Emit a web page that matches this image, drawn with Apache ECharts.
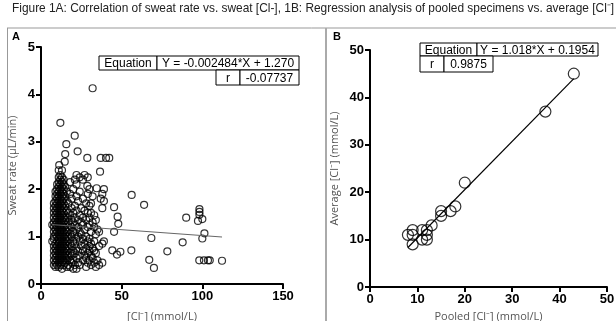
<!DOCTYPE html>
<html>
<head>
<meta charset="utf-8">
<script src="https://cdn.jsdelivr.net/npm/echarts@6/dist/echarts.min.js"></script>
<style>
  html, body { margin: 0; padding: 0; background: #fff; }
  #chart { width: 616px; height: 321px; }
</style>
</head>
<body>
<div id="chart"></div>
<script>
// Panel A: sweat [Cl-] (mmol/L) vs sweat rate (uL/min)
const sweatPoints = [
  [13, 0.32], [20, 0.32], [22, 0.32],
  [9, 0.36], [11, 0.36], [16, 0.36], [18, 0.36], [28, 0.36], [34, 0.36],
  [8, 0.4], [10, 0.4], [12, 0.4], [14, 0.4], [17, 0.4], [21, 0.4], [24, 0.4], [31, 0.4], [36, 0.4],
  [9, 0.45], [11, 0.45], [13, 0.45], [15, 0.45], [19, 0.45], [23, 0.45], [29, 0.45], [33, 0.45], [38, 0.45],
  [8, 0.5], [10, 0.5], [12, 0.5], [14, 0.5], [16, 0.5], [18, 0.5], [20, 0.5], [26, 0.5], [30, 0.5], [35, 0.5],
  [9, 0.55], [11, 0.55], [13, 0.55], [15, 0.55], [17, 0.55], [22, 0.55], [28, 0.55], [32, 0.55],
  [8, 0.6], [10, 0.6], [12, 0.6], [14, 0.6], [16, 0.6], [19, 0.6], [24, 0.6], [27, 0.6], [31, 0.6],
  [9, 0.65], [11, 0.65], [13, 0.65], [15, 0.65], [18, 0.65], [21, 0.65], [29, 0.65], [34, 0.65],
  [8, 0.7], [10, 0.7], [12, 0.7], [14, 0.7], [16, 0.7], [20, 0.7], [23, 0.7], [26, 0.7], [30, 0.7], [33, 0.7],
  [9, 0.75], [11, 0.75], [13, 0.75], [15, 0.75], [17, 0.75], [22, 0.75], [28, 0.75], [32, 0.75],
  [8, 0.8], [10, 0.8], [12, 0.8], [14, 0.8], [16, 0.8], [19, 0.8], [25, 0.8], [30, 0.8], [36, 0.8],
  [9, 0.85], [11, 0.85], [13, 0.85], [15, 0.85], [18, 0.85], [21, 0.85], [27, 0.85], [31, 0.85], [38, 0.85],
  [7, 0.9], [10, 0.9], [12, 0.9], [14, 0.9], [16, 0.9], [20, 0.9], [24, 0.9], [29, 0.9], [33, 0.9], [39, 0.9],
  [8, 0.95], [11, 0.95], [13, 0.95], [15, 0.95], [17, 0.95], [22, 0.95], [26, 0.95], [30, 0.95],
  [8, 1.0], [10, 1.0], [12, 1.0], [14, 1.0], [16, 1.0], [19, 1.0], [23, 1.0], [28, 1.0],
  [9, 1.05], [11, 1.05], [13, 1.05], [15, 1.05], [18, 1.05], [21, 1.05], [25, 1.05], [34, 1.05],
  [8, 1.1], [10, 1.1], [12, 1.1], [14, 1.1], [16, 1.1], [20, 1.1], [24, 1.1], [31, 1.1], [36, 1.1],
  [9, 1.15], [11, 1.15], [13, 1.15], [15, 1.15], [17, 1.15], [22, 1.15], [27, 1.15], [35, 1.15],
  [8, 1.2], [10, 1.2], [12, 1.2], [14, 1.2], [16, 1.2], [19, 1.2], [23, 1.2], [29, 1.2], [33, 1.2],
  [7, 1.25], [9, 1.25], [11, 1.25], [13, 1.25], [15, 1.25], [18, 1.25], [21, 1.25], [26, 1.25], [30, 1.25],
  [8, 1.3], [10, 1.3], [12, 1.3], [14, 1.3], [17, 1.3], [20, 1.3], [25, 1.3], [32, 1.3],
  [9, 1.35], [11, 1.35], [13, 1.35], [15, 1.35], [19, 1.35], [23, 1.35], [28, 1.35], [34, 1.35],
  [8, 1.4], [10, 1.4], [12, 1.4], [14, 1.4], [16, 1.4], [21, 1.4], [26, 1.4], [30, 1.4],
  [9, 1.45], [11, 1.45], [13, 1.45], [15, 1.45], [18, 1.45], [24, 1.45], [33, 1.45],
  [8, 1.5], [10, 1.5], [12, 1.5], [14, 1.5], [17, 1.5], [20, 1.5], [29, 1.5], [31, 1.5],
  [9, 1.55], [11, 1.55], [13, 1.55], [16, 1.55], [22, 1.55], [27, 1.55],
  [8, 1.6], [10, 1.6], [12, 1.6], [14, 1.6], [19, 1.6], [25, 1.6], [38, 1.6],
  [9, 1.65], [11, 1.65], [13, 1.65], [15, 1.65], [21, 1.65], [30, 1.65],
  [8, 1.7], [10, 1.7], [12, 1.7], [14, 1.7], [17, 1.7], [28, 1.7], [31, 1.7],
  [9, 1.75], [11, 1.75], [13, 1.75], [16, 1.75], [23, 1.75], [39, 1.75],
  [10, 1.8], [12, 1.8], [14, 1.8], [19, 1.8], [26, 1.8], [37, 1.8],
  [9, 1.85], [11, 1.85], [13, 1.85], [15, 1.85], [22, 1.85], [32, 1.85],
  [10, 1.9], [12, 1.9], [14, 1.9], [18, 1.9], [29, 1.9], [38, 1.9],
  [9, 1.95], [11, 1.95], [13, 1.95], [16, 1.95], [24, 1.95],
  [10, 2.0], [12, 2.0], [14, 2.0], [20, 2.0], [30, 2.0], [39, 2.0],
  [11, 2.05], [13, 2.05], [15, 2.05], [28.7, 2.07], [34.5, 2.02],
  [10, 2.1], [12, 2.1], [14, 2.1], [22, 2.1],
  [11, 2.15], [13, 2.15], [18, 2.15],
  [12, 2.2], [14, 2.2], [21, 2.2], [26, 2.2],
  [11, 2.25], [13, 2.25], [24, 2.25], [29, 2.25],
  [12, 2.3], [22, 2.3], [27, 2.3],
  [11, 2.4], [13, 2.4], [11.3, 2.51], [14.7, 2.58], [15, 2.74], [15.7, 2.95],
  [36.6, 2.37], [28.7, 2.66], [37, 2.66], [40.3, 2.66], [42.3, 2.66],
  [22.7, 2.8], [20.9, 3.13], [12, 3.4], [32, 4.13],
  [56.2, 1.88], [63.9, 1.67], [45.3, 1.62], [47.5, 1.42], [47.9, 1.27], [45.3, 1.1],
  [98.2, 1.58], [98.2, 1.52], [98.2, 1.46], [90, 1.4], [97.3, 1.33], [100, 1.37],
  [101.3, 1.07], [100, 0.96], [68.4, 0.97], [87.8, 0.88],
  [56, 0.71], [78.3, 0.69], [44.2, 0.71], [47.1, 0.62], [49.2, 0.68],
  [67.1, 0.51], [70, 0.34], [98.1, 0.5], [101, 0.5], [103.5, 0.5], [104.6, 0.5], [112.2, 0.49]
];
const fitA = [[7, 1.2526], [112.2, 0.9913]];

// Panel B: pooled [Cl-] vs average [Cl-] (mmol/L)
const pooledPoints = [
  [8, 11], [9, 11], [9, 12], [9, 9], [11, 12], [11, 10], [12, 12], [12, 10], [12, 11],
  [13, 13], [15, 15], [15, 16], [17, 16], [18, 17], [20, 22], [37, 37], [43, 45]
];
const fitB = [[8, 8.34], [43, 43.97]];

const ticksA = { xMax: 150, xStep: 50, yMax: 5, yStep: 1 };
const ticksB = { xMax: 50, xStep: 10, yMax: 50, yStep: 10 };

const chart = echarts.init(document.getElementById("chart"));

const axisStyle = (max, step) => ({
  type: "value",
  min: 0,
  max: max,
  interval: step,
  splitLine: { show: false },
  axisLine: { show: true, onZero: false, lineStyle: { color: "#000", width: 2 } },
  axisTick: { show: true, length: 5, lineStyle: { color: "#000", width: 2 } },
  axisLabel: { color: "#000", fontWeight: "bold", fontSize: 13, fontFamily: "Liberation Sans", margin: 6 },
  nameLocation: "middle",
  nameTextStyle: { color: "#555", fontSize: 11, fontFamily: "Open Sans" }
});

// little two-row tables with the fit results
const cell = (x, y, w, h, text) => ({
  type: "group",
  children: [
    { type: "rect", shape: { x: x, y: y, width: w, height: h }, style: { fill: "#fff", stroke: "#000", lineWidth: 1 } },
    { type: "text", x: x + w / 2, y: y + h / 2 + 1, style: { text: text, fill: "#000", font: "12px Liberation Sans", align: "center", verticalAlign: "middle" } }
  ]
});

const options = {
  animation: false,
  backgroundColor: "#fff",
  grid: [
    { left: 41, right: 333, top: 47, bottom: 37, outerBoundsMode: "none" },
    { left: 370, right: 9, top: 50, bottom: 34, outerBoundsMode: "none" }
  ],
  xAxis: [
    Object.assign(axisStyle(ticksA.xMax, ticksA.xStep), { gridIndex: 0, name: "[Cl⁻] (mmol/L)", nameGap: 27 }),
    Object.assign(axisStyle(ticksB.xMax, ticksB.xStep), { gridIndex: 1, name: "Pooled [Cl⁻] (mmol/L)", nameGap: 21 })
  ],
  yAxis: [
    Object.assign(axisStyle(ticksA.yMax, ticksA.yStep), { gridIndex: 0, name: "Sweat rate (µL/min)", nameGap: 23 }),
    Object.assign(axisStyle(ticksB.yMax, ticksB.yStep), { gridIndex: 1, name: "Average [Cl⁻] (mmol/L)", nameGap: 30 })
  ],
  series: [
    {
      type: "scatter", xAxisIndex: 0, yAxisIndex: 0, data: sweatPoints,
      symbol: "circle", symbolSize: 7,
      itemStyle: { color: "rgba(0,0,0,0)", borderColor: "#000", borderWidth: 1.2 }
    },
    {
      type: "line", xAxisIndex: 0, yAxisIndex: 0, data: fitA, symbol: "none",
      lineStyle: { color: "#666", width: 1 }
    },
    {
      type: "scatter", xAxisIndex: 1, yAxisIndex: 1, data: pooledPoints,
      symbol: "circle", symbolSize: 11,
      itemStyle: { color: "rgba(0,0,0,0)", borderColor: "#000", borderWidth: 1.2 }
    },
    {
      type: "line", xAxisIndex: 1, yAxisIndex: 1, data: fitB, symbol: "none", z: 1,
      lineStyle: { color: "#000", width: 1.2 }
    }
  ],
  graphic: [
    {
      type: "text", x: 12, y: 3,
      style: {
        text: "Figure 1A: Correlation of sweat rate vs. sweat [Cl-], 1B: Regression analysis of pooled specimens vs. average [Cl⁻]",
        fill: "#222", font: "11.9px Liberation Sans"
      }
    },
    { type: "line", shape: { x1: 7, y1: 28, x2: 616, y2: 28 }, style: { stroke: "#999", lineWidth: 1 } },
    { type: "line", shape: { x1: 7.5, y1: 28, x2: 7.5, y2: 321 }, style: { stroke: "#999", lineWidth: 1 } },
    { type: "line", shape: { x1: 326, y1: 28, x2: 326, y2: 321 }, style: { stroke: "#aaa", lineWidth: 2 } },
    { type: "text", x: 12, y: 31, style: { text: "A", fill: "#000", font: "bold 11px Liberation Sans" } },
    { type: "text", x: 333, y: 31, style: { text: "B", fill: "#000", font: "bold 11px Liberation Sans" } },
    cell(99, 56, 58, 14, "Equation"),
    cell(157, 56, 142, 14, "Y = -0.002484*X + 1.270"),
    cell(216, 70, 24, 15, "r"),
    cell(240, 70, 59, 15, "-0.07737"),
    cell(420, 43, 57, 13, "Equation"),
    cell(477, 43, 121, 13, "Y = 1.018*X + 0.1954"),
    cell(420, 56, 24, 16, "r"),
    cell(444, 56, 49, 16, "0.9875")
  ]
};

chart.setOption(options);
</script>
</body>
</html>
